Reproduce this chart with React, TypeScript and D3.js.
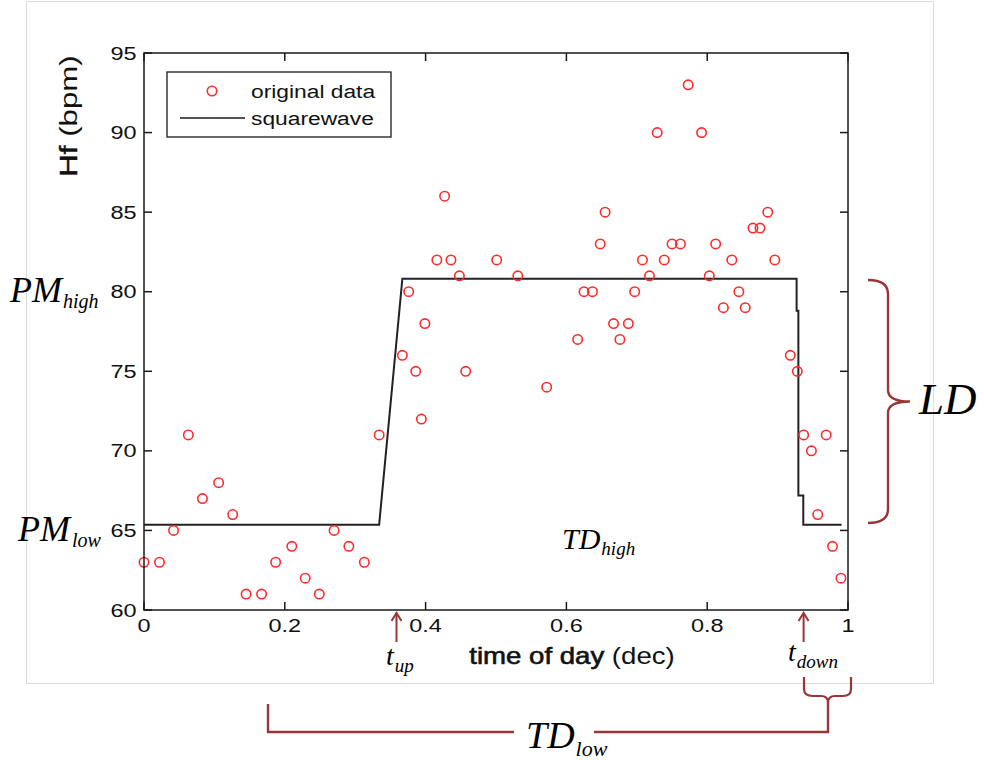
import React from 'react';
import * as d3 from 'd3';

// ---- data ----
const timeOfDay = [
  0.0, 0.022, 0.042, 0.063, 0.083, 0.106, 0.126, 0.145, 0.167, 0.187, 0.21, 0.229, 0.249, 0.27, 0.291, 0.313,
  0.334, 0.367, 0.376, 0.386, 0.394, 0.399, 0.416, 0.427, 0.436, 0.448, 0.457, 0.501, 0.531, 0.572, 0.616,
  0.625, 0.637, 0.648, 0.655, 0.667, 0.676, 0.688, 0.697, 0.708, 0.718, 0.729, 0.739, 0.75, 0.762, 0.773,
  0.792, 0.803, 0.812, 0.823, 0.835, 0.845, 0.854, 0.865, 0.875, 0.886, 0.896, 0.918, 0.928, 0.937, 0.948,
  0.957, 0.969, 0.978, 0.99,
];
const heartRate = [
  63, 63, 65, 71, 67, 68, 66, 61, 61, 63, 64, 62, 61, 65, 64, 63,
  71, 76, 80, 75, 72, 78, 82, 86, 82, 81, 75, 82, 81, 74, 77,
  80, 80, 83, 85, 78, 77, 78, 80, 82, 81, 90, 82, 83, 83, 93,
  90, 81, 83, 79, 82, 80, 79, 84, 84, 85, 82, 76, 75, 71, 70,
  66, 71, 64, 62,
];
const squareT = [0, 0.334, 0.367, 0.927, 0.927, 0.9295, 0.9295, 0.9365, 0.9365, 0.991];
const squareHf = [65.35, 65.35, 80.82, 80.82, 78.8, 78.8, 67.2, 67.2, 65.35, 65.35];
const xTicks = [0, 0.2, 0.4, 0.6, 0.8, 1];
const xTickLabels = ['0', '0.2', '0.4', '0.6', '0.8', '1'];
const yTicks = [60, 65, 70, 75, 80, 85, 90, 95];
const yTickLabels = ['60', '65', '70', '75', '80', '85', '90', '95'];
const legendLabels = ['original data', 'squarewave'];

const SANS = "'Liberation Sans', Arial, Helvetica, sans-serif";
const SERIF = "'Liberation Serif', 'Times New Roman', serif";
const RED = '#ff2a2a';
const BROWN = '#9a3636';

function SText({ x, y, size, anchor = 'start', sx = 1.27, rotate = 0, weight = 'normal', children }: any) {
  return (
    <text
      transform={`translate(${x},${y}) rotate(${rotate}) scale(${sx},1)`}
      textAnchor={anchor}
      fontSize={size}
      fontFamily={SANS}
      fontWeight={weight}
      fill="#111"
    >
      {children}
    </text>
  );
}

function Sub({ x, y, main, sub, size, subSize, dy = 6, dx = 1 }: any) {
  return (
    <text x={x} y={y} fontFamily={SERIF} fontStyle="italic" fontSize={size} fill="#000">
      {main}
      <tspan dx={dx} dy={dy} fontSize={subSize}>{sub}</tspan>
    </text>
  );
}

export default function App() {
  const W = 984, H = 760;
  const x = d3.scaleLinear().domain([0, 1]).range([144, 848]);
  const y = d3.scaleLinear().domain([60, 95]).range([610, 53]);
  const [x0, x1] = x.range();
  const [yb, yt] = y.range();
  const tl = 8;

  const sq = d3.line<number>().x((_, i) => x(squareT[i])).y((_, i) => y(squareHf[i]))(squareT.map((t) => t)) as string;

  const arrow = (ax: number, top: number, bot: number) => (
    <g stroke={BROWN} strokeWidth={2} fill="none">
      <line x1={ax} y1={top} x2={ax} y2={bot} />
      <polyline points={`${ax - 5},${top + 8} ${ax},${top} ${ax + 5},${top + 8}`} />
    </g>
  );

  return (
    <svg width={W} height={H} style={{ position: 'absolute', left: 0, top: 0, background: '#fff' }}>
      <rect x={0} y={0} width={W} height={H} fill="#fff" />
      {/* light frame */}
      <rect x={26.5} y={1.5} width={907} height={682} fill="none" stroke="#dcdcdc" strokeWidth={1} />

      {/* squarewave */}
      <path d={sq} fill="none" stroke="#222" strokeWidth={2} />

      {/* data */}
      {timeOfDay.map((t, i) => (
        <circle key={i} cx={x(t)} cy={y(heartRate[i])} r={4.7} fill="none" stroke={RED} strokeWidth={1.6} />
      ))}

      {/* axes box */}
      <rect x={x0} y={yt} width={x1 - x0} height={yb - yt} fill="none" stroke="#1a1a1a" strokeWidth={1.5} />
      {xTicks.map((t, i) => (
        <g key={'xt' + i} stroke="#1a1a1a" strokeWidth={1.5}>
          <line x1={x(t)} x2={x(t)} y1={yb} y2={yb - tl} />
          <line x1={x(t)} x2={x(t)} y1={yt} y2={yt + tl} />
        </g>
      ))}
      {yTicks.map((v, i) => (
        <g key={'yt' + i} stroke="#1a1a1a" strokeWidth={1.5}>
          <line x1={x0} x2={x0 + tl} y1={y(v)} y2={y(v)} />
          <line x1={x1} x2={x1 - tl} y1={y(v)} y2={y(v)} />
        </g>
      ))}
      {xTicks.map((t, i) => (
        <SText key={'xl' + i} x={x(t)} y={632} size={18.5} anchor="middle">{xTickLabels[i]}</SText>
      ))}
      {yTicks.map((v, i) => (
        <SText key={'yl' + i} x={136.5} y={y(v) + 6.5} size={18.5} anchor="end">{yTickLabels[i]}</SText>
      ))}

      {/* axis labels */}
      <SText x={572} y={664} size={23} anchor="middle" sx={1.2}>
        <tspan stroke="#111" strokeWidth={0.6}>time of day</tspan> (dec)
      </SText>
      <SText x={77} y={116} size={24} anchor="middle" rotate={-90} sx={1.3}>
        <tspan stroke="#111" strokeWidth={0.5}>Hf</tspan> (bpm)
      </SText>

      {/* legend */}
      <rect x={167} y={72} width={224} height={65} fill="#fff" stroke="#1a1a1a" strokeWidth={1.3} />
      <circle cx={212} cy={91} r={4.7} fill="none" stroke={RED} strokeWidth={1.6} />
      <SText x={251} y={98} size={19} sx={1.2}>{legendLabels[0]}</SText>
      <line x1={180} x2={245} y1={118} y2={118} stroke="#1a1a1a" strokeWidth={1.6} />
      <SText x={251} y={125} size={19} sx={1.2}>{legendLabels[1]}</SText>

      {/* annotations */}
      <Sub x={10} y={302} main="PM" sub="high" size={36} subSize={20} dy={6} />
      <Sub x={18} y={541} main="PM" sub="low" size={36} subSize={20} dy={6} dx={2} />
      <Sub x={562} y={549} main="TD" sub="high" size={30} subSize={19} dy={6} />
      <text x={919} y={414} fontFamily={SERIF} fontStyle="italic" fontSize={45} fill="#000">LD</text>
      <Sub x={386} y={665} main="t" sub="up" size={28} subSize={19} dy={7} />
      <Sub x={788} y={661} main="t" sub="down" size={28} subSize={19} dy={7} />
      <Sub x={526} y={748} main="TD" sub="low" size={38} subSize={22} dy={8} />

      {arrow(396.5, 613, 642)}
      {arrow(803.6, 613, 642)}

      {/* LD brace */}
      <path
        d="M868,280 Q888,280 888,294 L888,390 Q888,401.5 910,401.5 Q888,401.5 888,413 L888,509 Q888,523 868,523"
        fill="none" stroke={BROWN} strokeWidth={2.4}
      />
      {/* small brace under t_down */}
      <path
        d="M804,677 L804,689 Q804,696 813,696 L821,696 Q828,696 828,703 Q828,696 835,696 L843,696 Q851,696 851,689 L851,677"
        fill="none" stroke={BROWN} strokeWidth={2.2}
      />
      {/* TD_low bracket */}
      <path d="M268,704 L268,732 L514,732" fill="none" stroke={BROWN} strokeWidth={2.4} />
      <path d="M594,732 L828,732 L828,703" fill="none" stroke={BROWN} strokeWidth={2.4} />
    </svg>
  );
}
